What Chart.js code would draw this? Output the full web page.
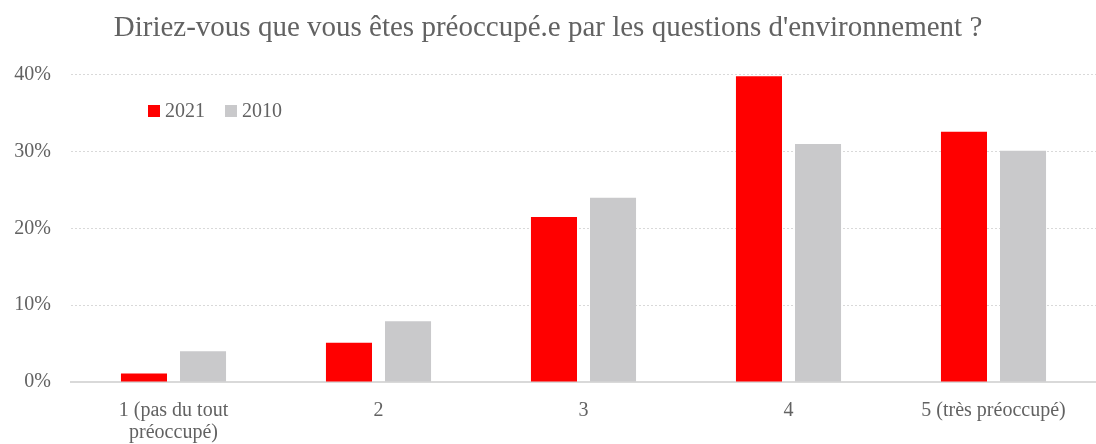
<!DOCTYPE html>
<html><head><meta charset="utf-8">
<script src="https://cdn.jsdelivr.net/npm/chart.js@4"></script>
<style>html,body{margin:0;padding:0;background:#fff;}canvas{display:block;}</style>
</head><body>
<canvas id="c" width="1096" height="444"></canvas>
<script>
const categories = [["1 (pas du tout", "préoccupé)"], "2", "3", "4", "5 (très préoccupé)"];
const series2021 = [1.1, 5.1, 21.5, 39.8, 32.6];
const series2010 = [4.0, 7.9, 24.0, 31.0, 30.1];
const yTicks = [0, 10, 20, 30, 40];
const titleText = "Diriez-vous que vous êtes préoccupé.e par les questions d'environnement ?";

const FONT = "'Liberation Serif', 'DejaVu Serif', serif";
const TXT = '#626262';

const legendPlugin = {
  id: 'insideLegend',
  afterDraw(chart) {
    const ctx = chart.ctx;
    ctx.save();
    ctx.font = '20px ' + FONT;
    ctx.textBaseline = 'middle';
    let x = 148; const y = 111;
    chart.data.datasets.forEach(ds => {
      ctx.fillStyle = ds.backgroundColor;
      ctx.fillRect(x, y - 6, 12, 12);
      ctx.fillStyle = TXT;
      ctx.fillText(ds.label, x + 17, y + 1);
      x += 17 + ctx.measureText(ds.label).width + 20;
    });
    ctx.restore();
  }
};

new Chart(document.getElementById('c'), {
  type: 'bar',
  data: {
    labels: categories,
    datasets: [
      { label: '2021', data: series2021, backgroundColor: '#ff0000', barPercentage: 0.78, categoryPercentage: 0.576 },
      { label: '2010', data: series2010, backgroundColor: '#c9c9cb', barPercentage: 0.78, categoryPercentage: 0.576 }
    ]
  },
  options: {
    responsive: false,
    animation: false,
    layout: { padding: { left: 0, right: 0, top: 0, bottom: 0 } },
    plugins: {
      legend: { display: false },
      tooltip: { enabled: false },
      title: {
        display: true, text: titleText, color: TXT,
        font: { family: FONT, size: 29, weight: 'normal' },
        padding: { top: 11, bottom: 29 }
      }
    },
    scales: {
      x: {
        grid: { display: false, drawTicks: false },
        border: { display: true, color: '#d9d9d9', width: 2 },
        ticks: { color: TXT, font: { family: FONT, size: 20, lineHeight: 1.1 }, padding: 18, maxRotation: 0, autoSkip: false },
        afterFit(s) { s.height = 62; }
      },
      y: {
        min: 0, max: 40,
        afterBuildTicks(s) { s.ticks = yTicks.map(v => ({ value: v })); },
        grid: { color: '#d9d9d9', drawTicks: false, lineWidth: 1 },
        border: { display: false, dash: [2, 2] },
        ticks: { color: TXT, font: { family: FONT, size: 20 }, padding: 20, callback: v => v + '%' },
        afterFit(s) { s.width = 71; }
      }
    }
  },
  plugins: [legendPlugin]
});
</script>
</body></html>
